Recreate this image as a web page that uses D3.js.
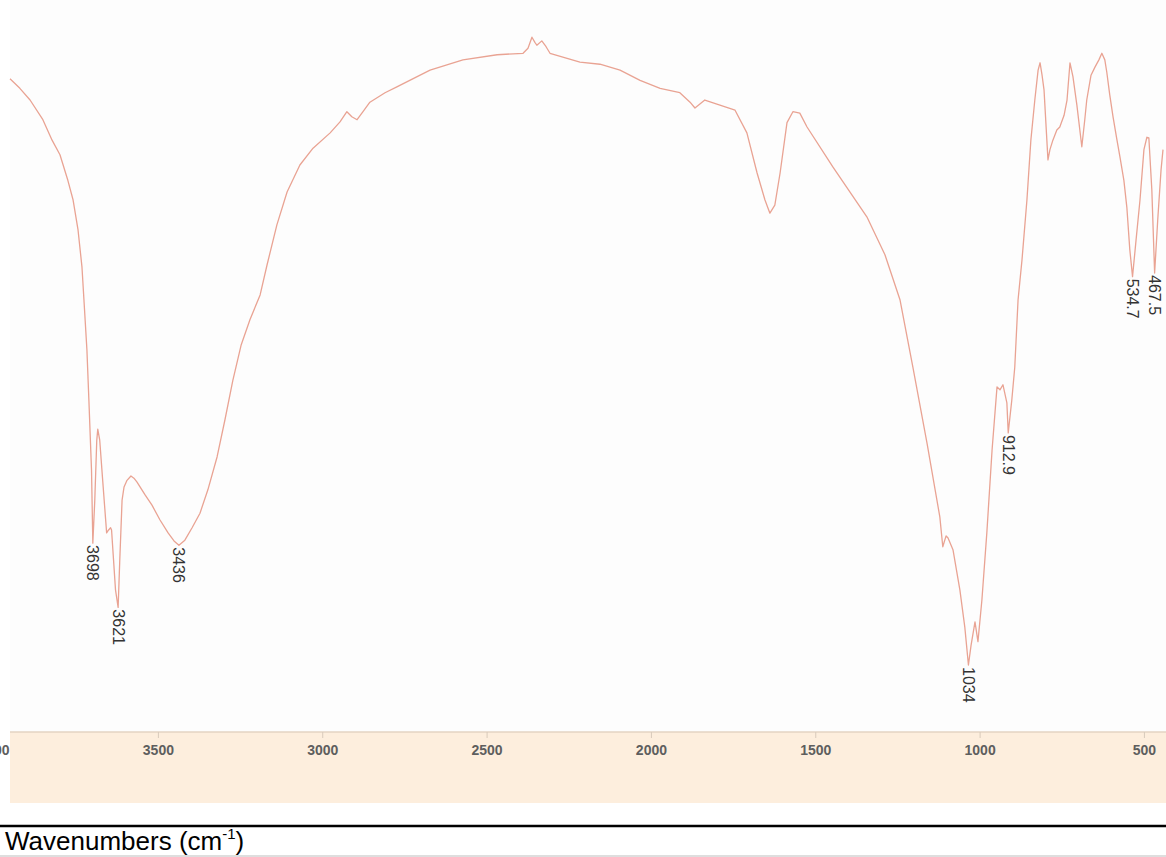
<!DOCTYPE html>
<html>
<head>
<meta charset="utf-8">
<script src="https://cdn.jsdelivr.net/npm/d3@7"></script>
<style>
  html, body { margin: 0; padding: 0; background: #ffffff; }
  svg { display: block; }
</style>
</head>
<body>
<svg id="chart" width="1166" height="857"></svg>
<script>
// IR spectrum: wavenumber (cm-1) vs. transmittance (%T)
const wavenumber = [
  3950, 3920, 3889, 3850, 3822, 3798, 3774, 3758, 3743, 3731,
  3725, 3716, 3710, 3702, 3698, 3692, 3686, 3683, 3677, 3668,
  3659, 3656, 3650, 3644, 3641, 3635, 3629, 3621, 3616, 3609,
  3603, 3594, 3582, 3573, 3564, 3539, 3518, 3494, 3469, 3451,
  3436, 3418, 3396, 3372, 3348, 3320, 3296, 3272, 3247, 3220,
  3189, 3168, 3138, 3107, 3068, 3028, 2976, 2946, 2925, 2910,
  2894, 2876, 2855, 2809, 2773, 2672, 2572, 2468, 2389, 2374,
  2362, 2353, 2347, 2332, 2319, 2307, 2216, 2155, 2094, 2033,
  1972, 1912, 1881, 1866, 1836, 1790, 1744, 1708, 1677, 1653,
  1638, 1623, 1607, 1586, 1568, 1547, 1525, 1446, 1343, 1288,
  1242, 1203, 1160, 1121, 1112, 1102, 1096, 1081, 1060, 1045,
  1034, 1026, 1014, 1005, 993, 978, 962, 947, 938, 929,
  917, 912.9, 902, 893, 883, 871, 856, 844, 832, 822,
  816, 810, 804, 792, 786, 777, 765, 756, 743, 734,
  725, 716, 704, 689, 680, 674, 661, 649, 637, 628,
  619, 613, 604, 594, 582, 573, 561, 552, 543, 534.7,
  524, 512, 500, 491, 485, 476, 467.5, 458, 448, 442
];
const transmittance = [
  89.2, 87.9, 86.3, 83.6, 80.8, 78.8, 75.3, 72.6, 68.5, 63.4,
  58.9, 52.1, 45.2, 35.6, 25.6, 31.5, 39.7, 41.2, 39.7, 34.2,
  28.8, 27.0, 27.4, 27.7, 27.4, 23.3, 19.2, 16.8, 23.3, 31.5,
  33.3, 34.2, 34.8, 34.5, 34.0, 32.2, 30.8, 28.8, 27.0, 25.9,
  25.3, 26.0, 27.7, 29.7, 32.9, 37.4, 42.5, 47.9, 52.7, 56.2,
  59.6, 63.7, 69.2, 73.7, 77.4, 79.7, 81.8, 83.3, 84.7, 84.0,
  83.6, 84.7, 86.0, 87.3, 88.1, 90.4, 91.8, 92.5, 92.7, 93.4,
  94.9, 94.2, 93.8, 94.4, 93.6, 92.7, 91.5, 91.2, 90.4, 89.0,
  87.9, 87.3, 86.0, 85.2, 86.3, 85.6, 84.9, 81.8, 76.3, 72.6,
  70.8, 71.9, 76.3, 83.2, 84.7, 84.5, 82.6, 77.1, 70.3, 65.1,
  58.9, 49.7, 39.3, 29.2, 25.1, 26.6, 26.3, 24.7, 19.2, 14.1,
  8.9, 11.6, 14.8, 12.1, 17.8, 27.0, 38.4, 47.0, 46.6, 47.3,
  44.8, 40.7, 45.2, 49.7, 58.9, 64.4, 72.6, 80.8, 86.3, 90.4,
  91.4, 89.7, 87.7, 78.1, 79.5, 80.8, 82.2, 82.6, 84.2, 86.3,
  91.4, 89.5, 85.6, 79.9, 83.6, 86.3, 89.7, 90.8, 91.8, 92.7,
  91.8, 90.1, 87.0, 84.0, 80.8, 78.5, 75.3, 71.6, 65.8, 62.1,
  67.1, 72.6, 79.5, 81.2, 81.1, 74.0, 62.6, 69.9, 76.7, 79.5
];

// Annotated band minima
const peakWavenumbers = [3698, 3621, 3436, 1034, 912.9, 534.7, 467.5];
const peakLabels = ["3698", "3621", "3436", "1034", "912.9", "534.7", "467.5"];

// Axis ticks
const tickValues = [4000, 3500, 3000, 2500, 2000, 1500, 1000, 500];
const tickLabels = ["4000", "3500", "3000", "2500", "2000", "1500", "1000", "500"];

const axisTitle = "Wavenumbers (cm";
const axisTitleSup = "-1";

const svg = d3.select("#chart");
const W = 1166;

const x = d3.scaleLinear().domain([3950, 442]).range([10, 1163]);
const y = d3.scaleLinear().domain([0, 100]).range([730, 0]);

// Plot background
svg.append("rect")
  .attr("x", 10).attr("y", 0).attr("width", W - 10).attr("height", 732)
  .attr("fill", "#fdfdfd");

// Axis band
const bandTop = 732, bandBottom = 803;
svg.append("rect")
  .attr("x", 10).attr("y", bandTop).attr("width", W - 10).attr("height", bandBottom - bandTop)
  .attr("fill", "#fdeedd");

const axis = d3.axisBottom(x)
  .tickValues(tickValues)
  .tickFormat((d, i) => tickLabels[i])
  .tickSize(6)
  .tickPadding(7);

const gAxis = svg.append("g")
  .attr("transform", `translate(0,${bandTop})`)
  .call(axis);
gAxis.select(".domain").attr("stroke", "#e3d3c2").attr("stroke-width", 1.5)
  .attr("d", `M10,0H${W}`);
gAxis.selectAll(".tick line").attr("stroke", "#d8cabb");
gAxis.selectAll(".tick text")
  .attr("fill", "#5e5e5e")
  .attr("font-family", "Liberation Sans, Arial, sans-serif")
  .attr("font-size", 14)
  .attr("font-weight", "bold");

// Spectrum trace
const data = wavenumber.map((w, i) => ({ w, t: transmittance[i] }));
const line = d3.line().x(d => x(d.w)).y(d => y(d.t));

svg.append("path")
  .datum(data)
  .attr("fill", "none")
  .attr("stroke", "#e9a393")
  .attr("stroke-width", 1.3)
  .attr("stroke-linejoin", "round")
  .attr("d", line);

// Peak annotations, rotated to read downward
const tAt = w => transmittance[wavenumber.indexOf(w)];
svg.append("g").selectAll("text")
  .data(peakWavenumbers)
  .join("text")
  .attr("transform", d => `translate(${x(d)},${y(tAt(d)) + 2}) rotate(90)`)
  .attr("text-anchor", "start")
  .attr("dominant-baseline", "central")
  .attr("font-family", "Liberation Sans, Arial, sans-serif")
  .attr("font-size", 16)
  .attr("fill", "#333333")
  .text((d, i) => peakLabels[i]);

// Title rules and axis title
svg.append("line")
  .attr("x1", 0).attr("x2", W).attr("y1", 826).attr("y2", 826)
  .attr("stroke", "#000").attr("stroke-width", 2.5);
svg.append("line")
  .attr("x1", 0).attr("x2", W).attr("y1", 856).attr("y2", 856)
  .attr("stroke", "#bdbdbd").attr("stroke-width", 1);

const title = svg.append("text")
  .attr("x", 5).attr("y", 850)
  .attr("font-family", "Liberation Sans, Arial, sans-serif")
  .attr("font-size", 26)
  .attr("fill", "#000");
title.append("tspan").text(axisTitle);
title.append("tspan").attr("font-size", 15).attr("dy", -11).text(axisTitleSup);
title.append("tspan").attr("dy", 11).text(")");
</script>
</body>
</html>
